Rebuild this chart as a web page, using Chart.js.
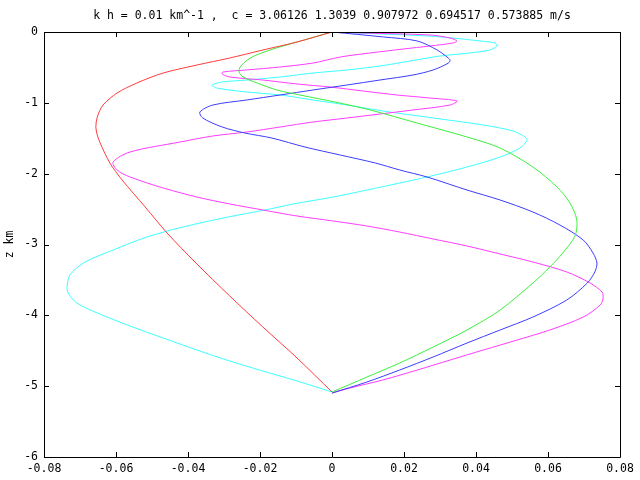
<!DOCTYPE html>
<html>
<head>
<meta charset="utf-8">
<script src="https://cdn.jsdelivr.net/npm/chart.js@4/dist/chart.umd.min.js"></script>
<style>
  html, body { margin: 0; padding: 0; background: #fff; }
</style>
</head>
<body>
<canvas id="modes" width="640" height="480"></canvas>
<script>
const titleText = 'k h = 0.01 km^-1 ,  c = 3.06126 1.3039 0.907972 0.694517 0.573885 m/s';
const xTicks = [-0.08, -0.06, -0.04, -0.02, 0, 0.02, 0.04, 0.06, 0.08];
const zTicks = [-6, -5, -4, -3, -2, -1, 0];

// mode 1
const redZ = [0, -0.141, -0.254, -0.367, -0.466, -0.579, -0.72, -0.861, -1.031, -1.2, -1.341, -1.454, -1.567, -1.849, -2.089, -2.47, -2.838, -3.261, -3.727, -4.165, -4.603, -5.083];
const redX = [0, -0.0097, -0.0192, -0.0284, -0.0375, -0.0469, -0.0542, -0.0597, -0.0636, -0.0652, -0.0656, -0.0652, -0.0644, -0.0617, -0.0583, -0.0519, -0.0458, -0.0378, -0.0284, -0.0192, -0.0097, 0];

// mode 2
const greenZ = [0, -0.141, -0.254, -0.367, -0.494, -0.565, -0.635, -0.72, -0.819, -0.904, -0.988, -1.101, -1.285, -1.482, -1.638, -1.906, -2.188, -2.414, -2.654, -2.88, -3.12, -3.318, -3.544, -3.925, -4.207, -4.447, -4.673, -4.871, -5.083];
const greenX = [0, -0.0097, -0.0172, -0.0227, -0.0255, -0.0258, -0.0247, -0.0208, -0.0153, -0.0075, 0.0008, 0.0106, 0.0236, 0.0375, 0.0467, 0.0558, 0.0625, 0.0661, 0.068, 0.0675, 0.0641, 0.0605, 0.0558, 0.0467, 0.0375, 0.0281, 0.0188, 0.0097, 0];

// mode 3
const blueZ = [0, -0.07, -0.127, -0.254, -0.367, -0.40, -0.44, -0.536, -0.607, -0.678, -0.748, -0.819, -0.889, -0.96, -1.031, -1.129, -1.214, -1.341, -1.426, -1.497, -1.624, -1.737, -1.849, -1.948, -2.047, -2.231, -2.372, -2.541, -2.725, -2.937, -3.12, -3.261, -3.388, -3.544, -3.784, -4.024, -4.207, -4.391, -4.588, -4.772, -4.941, -5.097];
const blueX = [0, 0.0143, 0.0237, 0.0292, 0.0323, 0.0328, 0.0323, 0.0281, 0.0225, 0.0133, 0.0042, -0.0053, -0.0144, -0.0237, -0.0331, -0.0367, -0.0359, -0.0305, -0.0242, -0.0167, -0.0075, 0.0023, 0.012, 0.0188, 0.0264, 0.0375, 0.0467, 0.0558, 0.0633, 0.0698, 0.0725, 0.0736, 0.073, 0.0709, 0.0652, 0.0558, 0.0467, 0.0375, 0.0281, 0.0188, 0.0097, 0];

// magenta curve
const magentaZ = [0, -0.014, -0.042, -0.085, -0.127, -0.155, -0.198, -0.24, -0.296, -0.353, -0.438, -0.494, -0.536, -0.565, -0.593, -0.635, -0.678, -0.734, -0.777, -0.833, -0.889, -0.932, -0.974, -1.031, -1.101, -1.158, -1.214, -1.271, -1.341, -1.412, -1.468, -1.553, -1.694, -1.835, -1.948, -2.047, -2.202, -2.33, -2.428, -2.513, -2.598, -2.668, -2.739, -2.824, -2.922, -3.021, -3.134, -3.247, -3.388, -3.544, -3.671, -3.756, -3.854, -4.024, -4.207, -4.349, -4.49, -4.631, -4.772, -4.913, -5.026, -5.097];
const magentaX = [0, 0.0086, 0.0272, 0.0328, 0.0347, 0.0336, 0.0272, 0.0198, 0.0106, 0.0023, -0.0053, -0.0144, -0.0237, -0.0303, -0.0305, -0.0284, -0.0192, -0.0097, -0.0005, 0.0086, 0.018, 0.0272, 0.0347, 0.0328, 0.0225, 0.0133, 0.0042, -0.0053, -0.0144, -0.0237, -0.0331, -0.0422, -0.0561, -0.0608, -0.0597, -0.0561, -0.0469, -0.0375, -0.0284, -0.0192, -0.0097, 0.0003, 0.0097, 0.0188, 0.0281, 0.0375, 0.0467, 0.0558, 0.0652, 0.0717, 0.075, 0.0753, 0.0745, 0.0698, 0.0605, 0.0514, 0.042, 0.0328, 0.0237, 0.0141, 0.005, 0];

// cyan curve
const cyanZ = [0, -0.056, -0.085, -0.127, -0.155, -0.198, -0.254, -0.296, -0.339, -0.409, -0.48, -0.536, -0.579, -0.635, -0.678, -0.706, -0.748, -0.791, -0.847, -0.889, -0.96, -1.031, -1.115, -1.214, -1.313, -1.398, -1.482, -1.525, -1.638, -1.765, -1.906, -2.047, -2.132, -2.231, -2.33, -2.428, -2.513, -2.612, -2.753, -2.894, -3.078, -3.247, -3.431, -3.6, -3.685, -3.826, -3.967, -4.151, -4.32, -4.49, -4.645, -4.786, -4.927, -5.082];
const cyanX = [0, 0.0264, 0.0336, 0.0411, 0.0453, 0.0458, 0.0438, 0.0383, 0.03, 0.0217, 0.0133, 0.0042, -0.0053, -0.0144, -0.0237, -0.0305, -0.0333, -0.032, -0.0237, -0.0144, -0.0053, 0.0042, 0.0141, 0.0281, 0.042, 0.0503, 0.0536, 0.0542, 0.0522, 0.0467, 0.0375, 0.0264, 0.0188, 0.0097, 0.0003, -0.0108, -0.0186, -0.0289, -0.0414, -0.0514, -0.0608, -0.0686, -0.0728, -0.0736, -0.0733, -0.0709, -0.0652, -0.0561, -0.0469, -0.0375, -0.0284, -0.0192, -0.0097, 0];

const FONT = '"DejaVu Sans Mono", "Liberation Mono", monospace';

function toPoints(xs, zs) {
    return xs.map((x, i) => ({ x: x, y: zs[i] }));
}

function line(xs, zs, color) {
    return {
        data: toPoints(xs, zs),
        borderColor: color,
        borderWidth: 1,
        pointRadius: 0,
        showLine: true,
        tension: 0.3,
        fill: false
    };
}

// gnuplot style box, inward ticks and title
const gnuFrame = {
    id: 'gnuFrame',
    afterDraw(chart) {
        const { ctx, chartArea: a, scales } = chart;
        const len = 5;
        ctx.save();
        ctx.strokeStyle = '#000';
        ctx.lineWidth = 1;
        ctx.beginPath();
        ctx.rect(Math.round(a.left) + 0.5, Math.round(a.top) + 0.5,
            Math.round(a.right - a.left), Math.round(a.bottom - a.top));
        xTicks.forEach(v => {
            const px = Math.round(scales.x.getPixelForValue(v)) + 0.5;
            ctx.moveTo(px, a.bottom); ctx.lineTo(px, a.bottom - len);
            ctx.moveTo(px, a.top); ctx.lineTo(px, a.top + len);
        });
        zTicks.forEach(v => {
            const py = Math.round(scales.y.getPixelForValue(v)) + 0.5;
            ctx.moveTo(a.left, py); ctx.lineTo(a.left + len, py);
            ctx.moveTo(a.right, py); ctx.lineTo(a.right - len, py);
        });
        ctx.stroke();

        ctx.fillStyle = '#000';
        ctx.font = '11.5px ' + FONT;
        ctx.textAlign = 'center';
        ctx.textBaseline = 'middle';
        ctx.fillText(titleText, (a.left + a.right) / 2, 16);
        ctx.restore();
    }
};

new Chart(document.getElementById('modes').getContext('2d'), {
    type: 'scatter',
    data: {
        datasets: [
            line(redX, redZ, 'rgb(255,60,60)'),
            line(greenX, greenZ, 'rgb(60,240,60)'),
            line(blueX, blueZ, 'rgb(60,60,255)'),
            line(magentaX, magentaZ, 'rgb(255,60,255)'),
            line(cyanX, cyanZ, 'rgb(60,255,255)')
        ]
    },
    options: {
        responsive: false,
        animation: false,
        devicePixelRatio: 1,
        layout: { padding: { top: 32, right: 20, left: 0, bottom: 0 } },
        plugins: {
            legend: { display: false },
            tooltip: { enabled: false }
        },
        scales: {
            x: {
                type: 'linear',
                min: -0.08,
                max: 0.08,
                afterBuildTicks: s => { s.ticks = xTicks.map(v => ({ value: v })); },
                afterFit: s => { s.height = 23; },
                grid: { display: false, drawTicks: false },
                border: { display: false },
                ticks: {
                    color: '#000',
                    padding: 5,
                    maxRotation: 0,
                    autoSkip: false,
                    font: { family: FONT, size: 11.5 },
                    callback: v => String(+v.toFixed(2))
                }
            },
            y: {
                type: 'linear',
                min: -6,
                max: 0,
                afterBuildTicks: s => { s.ticks = zTicks.map(v => ({ value: v })); },
                afterFit: s => { s.width = 44; },
                grid: { display: false, drawTicks: false },
                border: { display: false },
                title: {
                    display: true,
                    text: 'z km',
                    color: '#000',
                    padding: { top: 3, bottom: 0 },
                    font: { family: FONT, size: 11.5 }
                },
                ticks: {
                    color: '#000',
                    padding: 6,
                    autoSkip: false,
                    font: { family: FONT, size: 11.5 },
                    callback: v => String(v)
                }
            }
        }
    },
    plugins: [gnuFrame]
});
</script>
</body>
</html>
